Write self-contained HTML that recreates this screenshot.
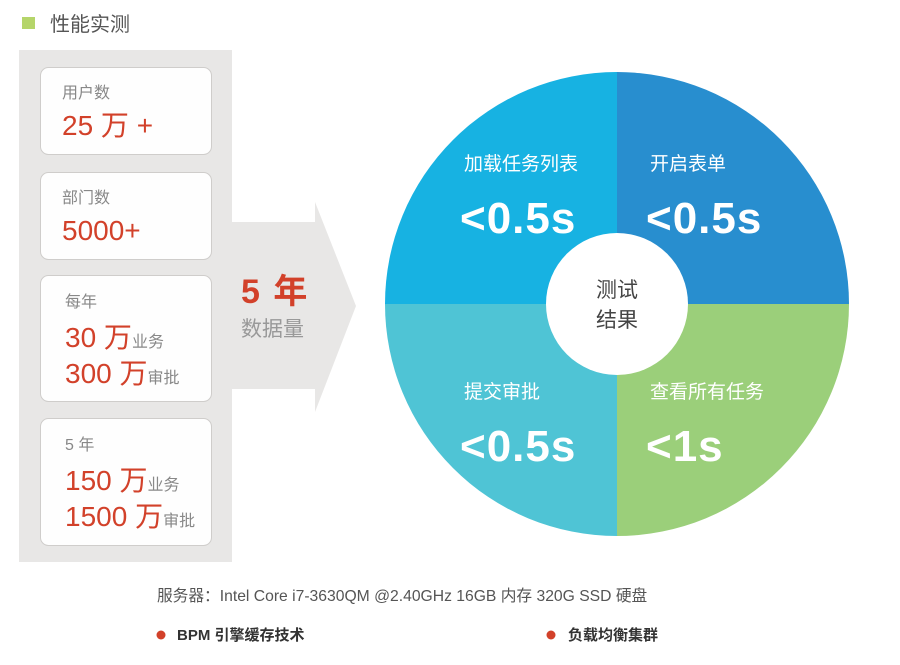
<!DOCTYPE html>
<html><head><meta charset="utf-8"><style>
html,body{margin:0;padding:0;background:#fff;}
svg{display:block;font-family:"Liberation Sans","Noto Sans CJK SC",sans-serif;}
</style></head><body>
<svg width="900" height="665" viewBox="0 0 900 665" xmlns="http://www.w3.org/2000/svg">
<rect x="22" y="17" width="13" height="12" fill="#b5d56a"/>
<text x="50" y="31" font-size="20" fill="#555">性能实测</text>

<rect x="19" y="50" width="213" height="512" fill="#e8e7e6"/>
<path d="M232 222 H315 V202 L356 306 L315 412 V389 H232 Z" fill="#e8e7e6"/>
<text x="241" y="303" font-size="34" font-weight="bold" fill="#d2412a" letter-spacing="2">5 年</text>
<text x="241" y="336" font-size="21" fill="#999">数据量</text>

<g stroke="#cfcdcb" stroke-width="1" fill="#fefefe">
<rect x="40.5" y="67.5" width="171" height="87" rx="8"/>
<rect x="40.5" y="172.5" width="171" height="87" rx="8"/>
<rect x="40.5" y="275.5" width="171" height="126" rx="8"/>
<rect x="40.5" y="418.5" width="171" height="127" rx="8"/>
</g>
<g fill="#d2412a" font-size="28">
<text x="62" y="135">25 万 +</text>
<text x="62" y="240">5000+</text>
<text x="65" y="347">30 万<tspan font-size="16" fill="#888">业务</tspan></text>
<text x="65" y="383">300 万<tspan font-size="16" fill="#888">审批</tspan></text>
<text x="65" y="490">150 万<tspan font-size="16" fill="#888">业务</tspan></text>
<text x="65" y="526">1500 万<tspan font-size="16" fill="#888">审批</tspan></text>
</g>
<g fill="#888" font-size="16">
<text x="62" y="98">用户数</text>
<text x="62" y="203">部门数</text>
<text x="65" y="307">每年</text>
<text x="65" y="450">5 年</text>
</g>

<path d="M617 304 V72 A232 232 0 0 0 385 304 Z" fill="#17b2e2"/>
<path d="M617 304 V72 A232 232 0 0 1 849 304 Z" fill="#288ecf"/>
<path d="M617 304 H385 A232 232 0 0 0 617 536 Z" fill="#4fc4d5"/>
<path d="M617 304 H849 A232 232 0 0 1 617 536 Z" fill="#9bcf7a"/>
<circle cx="617" cy="304" r="71" fill="#fff"/>
<text x="617" y="297" font-size="21" fill="#444" text-anchor="middle">测试</text>
<text x="617" y="327" font-size="21" fill="#444" text-anchor="middle">结果</text>
<g fill="#fff">
<text x="464" y="170" font-size="19">加载任务列表</text>
<text x="650" y="170" font-size="19">开启表单</text>
<text x="464" y="398" font-size="19">提交审批</text>
<text x="650" y="398" font-size="19">查看所有任务</text>
<g font-size="44" font-weight="bold" letter-spacing="1">
<text x="460" y="233">&lt;0.5s</text>
<text x="646" y="233">&lt;0.5s</text>
<text x="460" y="461">&lt;0.5s</text>
<text x="646" y="461">&lt;1s</text>
</g>
</g>

<text x="157" y="601" font-size="15.7" fill="#555">服务器：Intel Core i7-3630QM @2.40GHz 16GB 内存 320G SSD 硬盘</text>
<circle cx="161" cy="635" r="4.5" fill="#d2412a"/>
<text x="177" y="640" font-size="15" font-weight="bold" fill="#333">BPM 引擎缓存技术</text>
<circle cx="551" cy="635" r="4.5" fill="#d2412a"/>
<text x="568" y="640" font-size="15" font-weight="bold" fill="#333">负载均衡集群</text>
</svg>
</body></html>
